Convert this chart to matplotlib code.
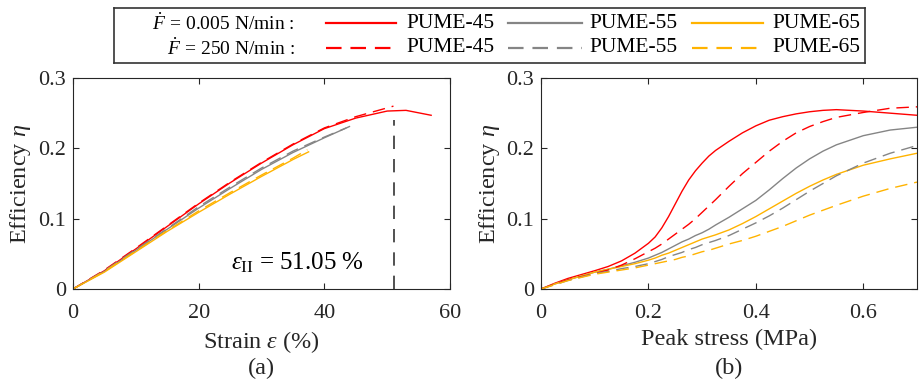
import matplotlib
matplotlib.use('Agg')
import matplotlib.pyplot as plt

plt.rcParams['font.family'] = ['Liberation Serif', 'DejaVu Serif']
plt.rcParams['mathtext.fontset'] = 'custom'
plt.rcParams['mathtext.rm'] = 'Liberation Serif'
plt.rcParams['mathtext.it'] = 'Liberation Serif:italic'

# (a) efficiency vs strain (%)
strain_45 = [0, 5, 10, 15, 20, 25, 30, 35, 40, 45, 50, 53, 57]
eta_45 = [0, 0.026, 0.057, 0.089, 0.121, 0.151, 0.179, 0.205, 0.228, 0.243, 0.253, 0.254, 0.247]
strain_45d = [0, 5, 10, 15, 20, 25, 30, 35, 40, 45, 51]
eta_45d = [0, 0.027, 0.058, 0.090, 0.122, 0.152, 0.180, 0.206, 0.229, 0.245, 0.260]
strain_55 = [0, 5, 10, 15, 20, 25, 30, 35, 40, 44]
eta_55 = [0, 0.025, 0.055, 0.085, 0.115, 0.143, 0.170, 0.194, 0.215, 0.231]
strain_55d = [0, 5, 10, 15, 20, 25, 30, 35, 40, 43.5]
eta_55d = [0, 0.026, 0.056, 0.086, 0.117, 0.145, 0.172, 0.196, 0.216, 0.229]
strain_65 = [0, 5, 10, 15, 20, 25, 30, 35, 37.5]
eta_65 = [0, 0.024, 0.053, 0.082, 0.109, 0.135, 0.160, 0.184, 0.195]
strain_65d = [0, 5, 10, 15, 20, 25, 30, 35, 37.3]
eta_65d = [0, 0.025, 0.054, 0.083, 0.111, 0.137, 0.162, 0.186, 0.198]
strain_II = 51.05
eta_II_top = 0.24

# (b) efficiency vs peak stress (MPa)
stress = [0, 0.025, 0.05, 0.1, 0.125, 0.15, 0.175, 0.2, 0.2125, 0.225, 0.2375, 0.25,
          0.2625, 0.275, 0.2875, 0.3, 0.3125, 0.325, 0.35, 0.375, 0.4, 0.425, 0.45,
          0.475, 0.5, 0.525, 0.55, 0.6, 0.65, 0.7]
s45 = [0, 0.008, 0.015, 0.026, 0.032, 0.040, 0.051, 0.065, 0.074, 0.087, 0.103, 0.121,
       0.139, 0.155, 0.168, 0.179, 0.189, 0.197, 0.210, 0.222, 0.232, 0.240, 0.245,
       0.249, 0.252, 0.254, 0.255, 0.253, 0.250, 0.247]
s45d = [0, 0.007, 0.013, 0.022, 0.027, 0.034, 0.043, 0.053, 0.058, 0.064, 0.071, 0.078,
        0.085, 0.092, 0.100, 0.109, 0.118, 0.127, 0.146, 0.164, 0.180, 0.196, 0.210,
        0.222, 0.231, 0.238, 0.244, 0.251, 0.257, 0.259]
s55 = [0, 0.007, 0.013, 0.024, 0.028, 0.033, 0.038, 0.044, 0.048, 0.052, 0.057, 0.062,
       0.067, 0.071, 0.076, 0.080, 0.085, 0.091, 0.102, 0.114, 0.126, 0.141, 0.157,
       0.172, 0.185, 0.196, 0.205, 0.218, 0.226, 0.230]
s55d = [0, 0.006, 0.012, 0.022, 0.025, 0.029, 0.032, 0.036, 0.039, 0.042, 0.046, 0.049,
        0.052, 0.056, 0.059, 0.063, 0.066, 0.069, 0.076, 0.085, 0.094, 0.104, 0.115,
        0.127, 0.139, 0.150, 0.161, 0.179, 0.193, 0.204]
s65 = [0, 0.007, 0.013, 0.024, 0.028, 0.032, 0.036, 0.041, 0.044, 0.048, 0.051, 0.055,
       0.059, 0.063, 0.067, 0.071, 0.074, 0.077, 0.084, 0.093, 0.103, 0.114, 0.125,
       0.136, 0.146, 0.155, 0.163, 0.176, 0.185, 0.193]
s65d = [0, 0.006, 0.012, 0.021, 0.024, 0.027, 0.030, 0.034, 0.036, 0.038, 0.040, 0.042,
        0.045, 0.047, 0.050, 0.053, 0.055, 0.058, 0.064, 0.069, 0.075, 0.082, 0.089,
        0.097, 0.105, 0.112, 0.119, 0.132, 0.143, 0.152]

samples = ['PUME-45', 'PUME-55', 'PUME-65']
rates = [r'$\dot{F}\,=\,$0.005 N/min :', r'$\dot{F}\,=\,$250 N/min :']
colors = ['#FF0000', '#858585', '#FFB300']
dash = (9, 5)

fig = plt.figure(figsize=(9.21, 3.84), dpi=100)
ax1 = fig.add_axes([73 / 921, 95 / 384, 377 / 921, 211 / 384])
ax2 = fig.add_axes([541 / 921, 95 / 384, 376 / 921, 211 / 384])

lw = 1.0
ax1.plot(strain_45, eta_45, color=colors[0], lw=lw)
ax1.plot(strain_55, eta_55, color=colors[1], lw=lw)
ax1.plot(strain_65, eta_65, color=colors[2], lw=lw)
ax1.plot(strain_45d, eta_45d, color=colors[0], lw=lw, dashes=dash)
ax1.plot(strain_55d, eta_55d, color=colors[1], lw=lw, dashes=dash)
ax1.plot(strain_65d, eta_65d, color=colors[2], lw=lw, dashes=dash)
ax1.plot([strain_II, strain_II], [0, eta_II_top], color='#333333', lw=1.2, dashes=(8, 6))
ax1.text(35.7, 0.038, r'$\varepsilon_{\rm II}$ = 51.05 %', fontsize=18,
         ha='center', va='center')

ax2.plot(stress, s45, color=colors[0], lw=lw)
ax2.plot(stress, s55, color=colors[1], lw=lw)
ax2.plot(stress, s65, color=colors[2], lw=lw)
ax2.plot(stress, s45d, color=colors[0], lw=lw, dashes=dash)
ax2.plot(stress, s55d, color=colors[1], lw=lw, dashes=dash)
ax2.plot(stress, s65d, color=colors[2], lw=lw, dashes=dash)

ax1.set_xlim(0, 60)
ax1.set_xticks([0, 20, 40, 60])
ax1.set_xticklabels(['0', '20', '40', '60'])
ax2.set_xlim(0, 0.7)
ax2.set_xticks([0, 0.2, 0.4, 0.6])
ax2.set_xticklabels(['0', '0.2', '0.4', '0.6'])

for ax, xl, cap in [(ax1, r'Strain $\varepsilon$ (%)', '(a)'),
                    (ax2, 'Peak stress (MPa)', '(b)')]:
    ax.set_ylim(0, 0.3)
    ax.set_yticks([0, 0.1, 0.2, 0.3])
    ax.set_yticklabels(['0', '0.1', '0.2', '0.3'])
    ax.tick_params(direction='in', length=4, width=0.8, top=True, right=True,
                   labelsize=16, colors='#262626')
    ax.tick_params(axis='x', pad=11)
    ax.tick_params(axis='y', pad=5)
    for sp in ax.spines.values():
        sp.set_color('#262626')
        sp.set_linewidth(0.8)
    ax.set_ylabel(r'Efficiency $\eta$', fontsize=17.5, color='#262626')
    ax.yaxis.set_label_coords(-0.105, 0.5)
    ax.set_xlabel(xl, fontsize=17.5, color='#262626')
    ax.xaxis.set_label_coords(0.5, -0.19)
    ax.text(0.5, -0.375, cap, transform=ax.transAxes, fontsize=17.5,
            ha='center', va='center', color='#262626')

# legend box drawn in pixel-like units
lg = fig.add_axes([114 / 921, 321 / 384, 751 / 921, 55 / 384])
lg.set_xlim(114, 865)
lg.set_ylim(63, 8)
lg.set_xticks([])
lg.set_yticks([])
for sp in lg.spines.values():
    sp.set_color('#333333')
    sp.set_linewidth(1.2)

row_y = [23, 48]
line_x = [(326, 396), (508, 582), (692, 763)]
text_x = [406, 589, 772]
for r, y in enumerate(row_y):
    lg.text(295, y, rates[r], fontsize=14, ha='right', va='center')
    for i in range(3):
        kw = {} if r == 0 else {'dashes': (7, 4)}
        lg.plot(line_x[i], [y, y], color=colors[i], lw=1.6, **kw)
        lg.text(text_x[i], y, samples[i], fontsize=15.5, ha='left', va='center')

fig.savefig('out.png', dpi=100)
